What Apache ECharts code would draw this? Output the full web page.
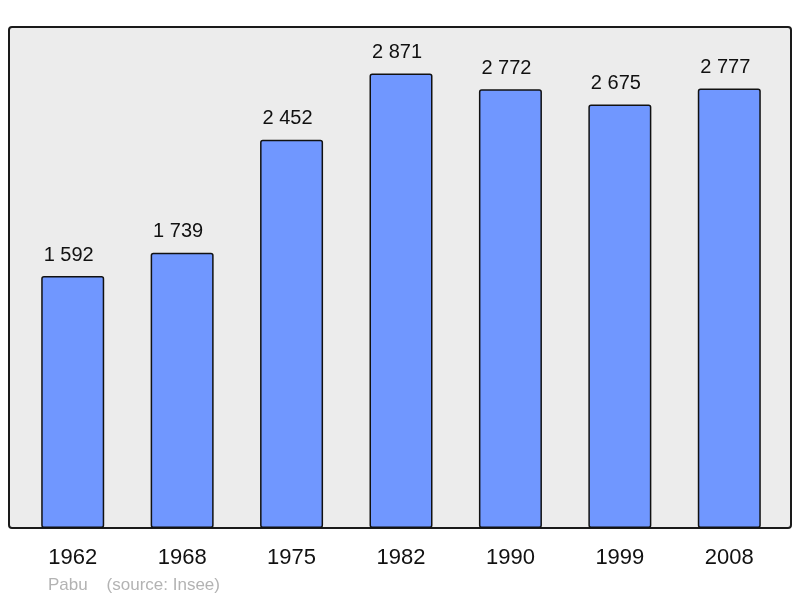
<!DOCTYPE html>
<html><head><meta charset="utf-8">
<script src="https://cdn.jsdelivr.net/npm/echarts@6/dist/echarts.min.js"></script>
<style>html,body{margin:0;padding:0;background:#fff}#c{width:800px;height:598px}</style>
</head><body><div id="c"></div>
<script>
const years = ['1962','1968','1975','1982','1990','1999','2008'];
const population = [1592, 1739, 2452, 2871, 2772, 2675, 2777];
const footer = 'Pabu    (source: Insee)';

const fmt = v => String(v).replace(/\B(?=(\d{3})+(?!\d))/g, ' ');
const chart = echarts.init(document.getElementById('c'), null, {renderer: 'canvas'});
chart.setOption({
  animation: false,
  backgroundColor: '#ffffff',
  graphic: [
    {type: 'rect', z: 0, shape: {x: 9, y: 27, width: 782, height: 501, r: 3},
     style: {fill: '#ececec', stroke: '#1a1a1a', lineWidth: 2}},
    {type: 'text', left: 48, top: 577, z: 10,
     style: {text: footer, fill: '#b3b3b3', font: '17px "Liberation Sans", Arial, sans-serif'}}
  ],
  grid: {left: 18, width: 766, top: 27, bottom: 70, containLabel: false},
  xAxis: {
    type: 'category', data: years,
    axisLine: {show: false}, axisTick: {show: false},
    axisLabel: {color: '#111', fontSize: 22, fontFamily: '"Liberation Sans", Arial, sans-serif', margin: 19}
  },
  yAxis: {type: 'value', min: 0, max: 3165, show: false, splitLine: {show: false}},
  series: [{
    type: 'bar', data: population, barWidth: 63, z: 5,
    itemStyle: {color: '#7097ff', borderColor: '#111', borderWidth: 1.5, borderRadius: 2},
    label: {show: true, position: 'top', distance: 11, offset: [-4, 0], color: '#111', fontSize: 20,
      fontFamily: '"Liberation Sans", Arial, sans-serif', formatter: p => fmt(p.value)}
  }]
});
</script></body></html>
